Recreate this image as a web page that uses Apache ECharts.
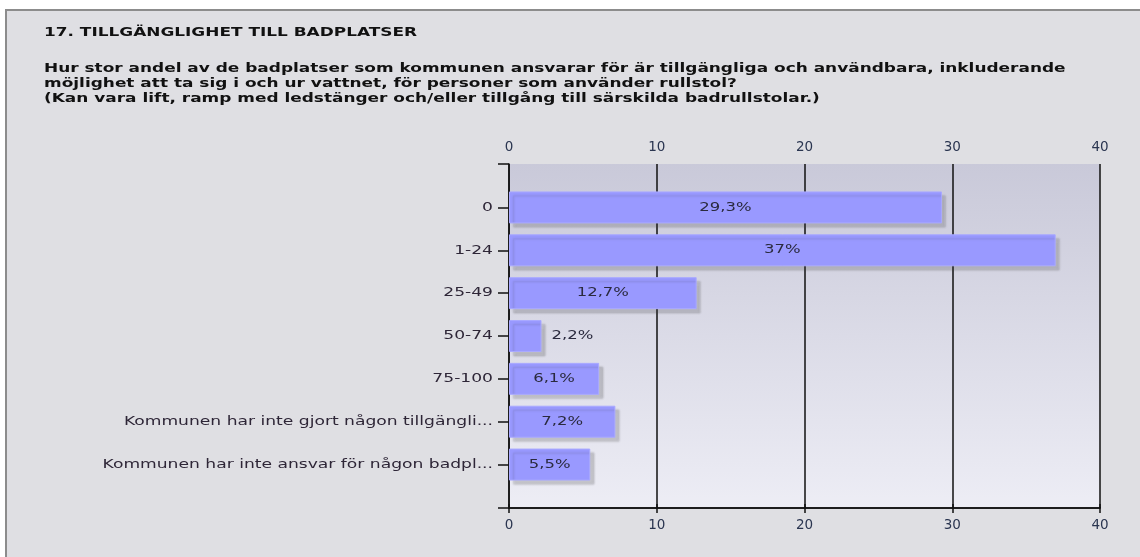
<!DOCTYPE html>
<html>
<head>
<meta charset="utf-8">
<script src="https://cdn.jsdelivr.net/npm/echarts@6/dist/echarts.min.js"></script>
<style>
  html, body { margin: 0; padding: 0; background: #fff; }
  #main { width: 1140px; height: 557px; }
</style>
</head>
<body>
<div id="main"></div>
<script>
var categories = [
    '0',
    '1-24',
    '25-49',
    '50-74',
    '75-100',
    'Kommunen har inte gjort någon tillgängli...',
    'Kommunen har inte ansvar för någon badpl...'
];
var values = [29.3, 37, 12.7, 2.2, 6.1, 7.2, 5.5];
var xTicks = [0, 10, 20, 30, 40];

var title = '17. TILLGÄNGLIGHET TILL BADPLATSER';
var question = [
    'Hur stor andel av de badplatser som kommunen ansvarar för är tillgängliga och användbara, inkluderande',
    'möjlighet att ta sig i och ur vattnet, för personer som använder rullstol?',
    '(Kan vara lift, ramp med ledstänger och/eller tillgång till särskilda badrullstolar.)'
];

var font = 'Verdana, "DejaVu Sans", sans-serif';
// the original renderer draws Verdana noticeably wider, stretch text horizontally
var stretch = 1.37;

var chart = echarts.init(document.getElementById('main'));

var pointData = values.map(function (v, i) { return [v, i]; });

var axisCommon = {
    type: 'value',
    min: xTicks[0],
    max: xTicks[xTicks.length - 1],
    interval: 10,
    axisLine: { show: true, lineStyle: { color: '#111', width: 1.5 } },
    axisLabel: { color: '#2a3550', fontFamily: font, fontSize: 13.5 },
};

// category names left of the axis
function renderCatLabel(params, api) {
    var idx = api.value(1);
    var pt = api.coord([0, idx]);
    return {
        type: 'text',
        x: pt[0] - 16, y: pt[1],
        scaleX: stretch,
        style: {
            text: categories[idx],
            fill: '#2e2637',
            font: '12.5px ' + font,
            align: 'right', verticalAlign: 'middle'
        }
    };
}

// percentage labels, centred in the bar or right of a short bar
function renderValLabel(params, api) {
    var v = api.value(0);
    var idx = api.value(1);
    var txt = String(v).replace('.', ',') + '%';
    var inside = v >= 4;
    var pt = inside ? api.coord([v / 2, idx]) : api.coord([v, idx]);
    return {
        type: 'text',
        x: inside ? pt[0] : pt[0] + 10, y: pt[1],
        scaleX: stretch,
        z2: 10,
        style: {
            text: txt,
            fill: '#2a2a3e',
            font: '12px ' + font,
            align: inside ? 'center' : 'left', verticalAlign: 'middle'
        }
    };
}

var option = {
    backgroundColor: '#fff',
    animation: false,
    graphic: [
        {
            type: 'rect', z: -10,
            shape: { x: 6, y: 10, width: 1200, height: 600 },
            style: { fill: '#dfdfe3', stroke: '#8c8c8c', lineWidth: 2 }
        },
        {
            type: 'text', x: 44, y: 27, scaleX: 1.41,
            style: { text: title, fill: '#111', font: 'bold 12px ' + font }
        },
        {
            type: 'text', x: 44, y: 61, scaleX: 1.355,
            style: { text: question.join('\n'), fill: '#111', font: 'bold 12.5px ' + font, lineHeight: 15 }
        },
        // short extensions of the horizontal axis lines to the left of the plot
        {
            type: 'line', z: 5,
            shape: { x1: 498, y1: 164, x2: 509, y2: 164 },
            style: { stroke: '#111', lineWidth: 1.5 }
        },
        {
            type: 'line', z: 5,
            shape: { x1: 498, y1: 508, x2: 509, y2: 508 },
            style: { stroke: '#111', lineWidth: 1.5 }
        }
    ],
    grid: [
        {
            left: 509, right: 40, top: 164, bottom: 49,
            show: true, borderWidth: 0,
            backgroundColor: new echarts.graphic.LinearGradient(0, 0, 0, 1, [
                { offset: 0, color: '#c9c9d9' },
                { offset: 1, color: '#ededf5' }
            ])
        },
        { left: 509, right: 40, top: 186, bottom: 71 }
    ],
    xAxis: [
        Object.assign({}, axisCommon, {
            gridIndex: 0, position: 'top',
            axisTick: { show: true, length: 4, lineStyle: { color: '#111', width: 1.5 } },
            axisLabel: Object.assign({}, axisCommon.axisLabel, { margin: 10 }),
            splitLine: { show: true, lineStyle: { color: '#111', width: 1.5 } }
        }),
        Object.assign({}, axisCommon, {
            gridIndex: 0, position: 'bottom',
            axisTick: { show: true, length: 5, lineStyle: { color: '#111', width: 1.5 } },
            axisLabel: Object.assign({}, axisCommon.axisLabel, { margin: 10 }),
            splitLine: { show: false }
        }),
        {
            type: 'value', gridIndex: 1, min: 0, max: 40, show: false
        }
    ],
    yAxis: [
        {
            type: 'value', gridIndex: 0,
            axisLine: { show: true, lineStyle: { color: '#111', width: 1.5 } },
            axisTick: { show: false }, axisLabel: { show: false }, splitLine: { show: false }
        },
        {
            type: 'category', gridIndex: 1, inverse: true,
            data: categories,
            axisLine: { show: false },
            axisTick: { show: true, alignWithLabel: true, length: 11, lineStyle: { color: '#111', width: 1.5 } },
            axisLabel: { show: false }
        }
    ],
    series: [
        {
            type: 'bar',
            xAxisIndex: 2, yAxisIndex: 1,
            data: values,
            barWidth: 32,
            itemStyle: {
                color: '#9999ff',
                borderColor: '#a9a9ff', borderWidth: 1,
                shadowColor: 'rgba(60,60,60,0.22)',
                shadowBlur: 2, shadowOffsetX: 4, shadowOffsetY: 4
            }
        },
        {
            type: 'custom',
            xAxisIndex: 2, yAxisIndex: 1,
            data: pointData,
            renderItem: renderValLabel,
            silent: true, z: 5
        },
        {
            type: 'custom',
            xAxisIndex: 2, yAxisIndex: 1,
            data: pointData,
            renderItem: renderCatLabel,
            silent: true
        }
    ]
};

chart.setOption(option);
</script>
</body>
</html>
